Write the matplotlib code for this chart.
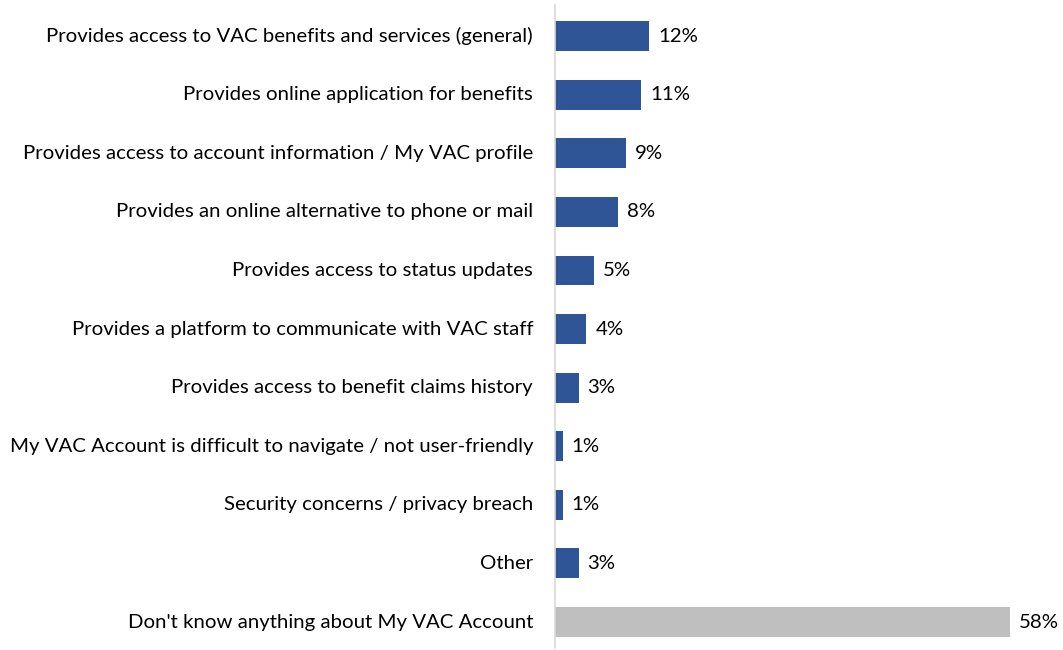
import matplotlib.pyplot as plt
from matplotlib.transforms import offset_copy

plt.rcParams['font.family'] = ['Lato', 'DejaVu Sans']

# Survey responses (percent)
categories = [
    "Provides access to VAC benefits and services (general)",
    "Provides online application for benefits",
    "Provides access to account information / My VAC profile",
    "Provides an online alternative to phone or mail",
    "Provides access to status updates",
    "Provides a platform to communicate with VAC staff",
    "Provides access to benefit claims history",
    "My VAC Account is difficult to navigate / not user-friendly",
    "Security concerns / privacy breach",
    "Other",
    "Don't know anything about My VAC Account",
]
values = [12, 11, 9, 8, 5, 4, 3, 1, 1, 3, 58]
labels = ["12%", "11%", "9%", "8%", "5%", "4%", "3%", "1%", "1%", "3%", "58%"]

blue = '#2F5597'
grey = '#BFBFBF'
colors = [blue] * 10 + [grey]

W, H = 1063, 650
fig = plt.figure(figsize=(W / 100, H / 100), dpi=100)
ax = fig.add_axes([555 / W, 2 / H, (W - 555) / W, 643 / H])

ypos = list(range(len(categories)))
ax.barh(ypos, values, height=0.51, color=colors)

ax.set_xlim(0, (W - 555) / 7.85)
ax.set_ylim(10.443, -0.53)

fs = 14.7

# value labels
lab_trans = offset_copy(ax.transData, fig=fig, x=9, y=0, units='dots')
for y, v, t in zip(ypos, values, labels):
    ax.text(v, y, t, transform=lab_trans, ha='left', va='center',
            fontsize=fs, color='#000000')

# category labels
cat_trans = offset_copy(ax.get_yaxis_transform(), fig=fig, x=-22, y=0, units='dots')
for y, c in zip(ypos, categories):
    ax.text(0, y, c, transform=cat_trans, ha='right', va='center',
            fontsize=fs, color='#000000')

for s in ['top', 'right', 'bottom']:
    ax.spines[s].set_visible(False)
ax.spines['left'].set_color('#D9D9D9')
ax.spines['left'].set_linewidth(1.2)
ax.set_xticks([])
ax.set_yticks([])

fig.savefig('out.png', dpi=100)
